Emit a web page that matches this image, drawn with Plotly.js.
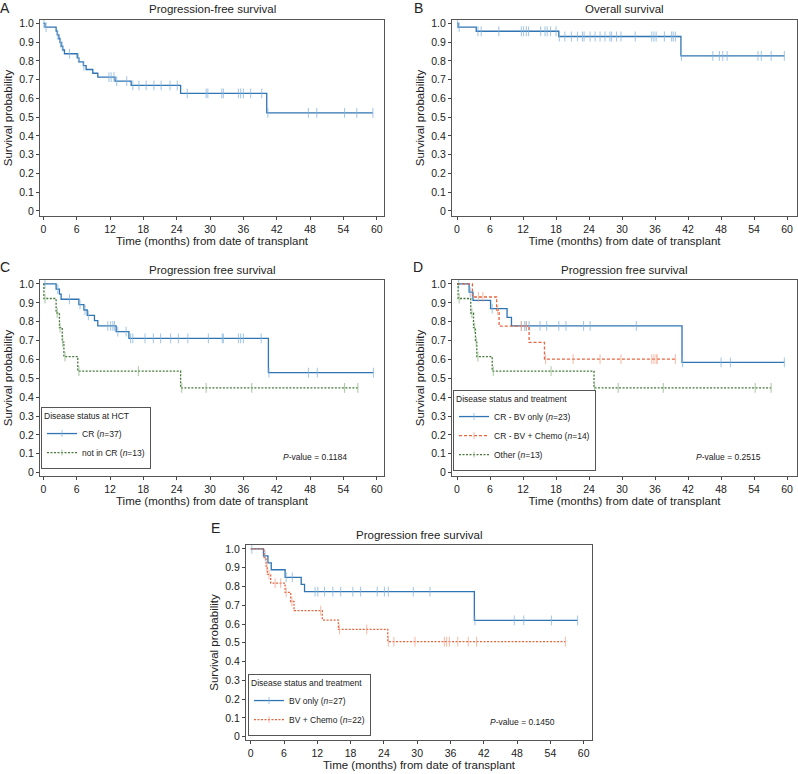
<!DOCTYPE html>
<html><head><meta charset="utf-8">
<script src="https://cdn.plot.ly/plotly-3.0.1.min.js"></script>
<style>html,body{margin:0;padding:0;background:#fff}</style>
</head><body><div id="chart" style="width:798px;height:774px"></div>
<script>
// ---------- data ----------
var xTickVals = [0, 6, 12, 18, 24, 30, 36, 42, 48, 54, 60];
var yTickVals = [0, 0.1, 0.2, 0.3, 0.4, 0.5, 0.6, 0.7, 0.8, 0.9, 1.0];
var yTickText = ['0', '0.1', '0.2', '0.3', '0.4', '0.5', '0.6', '0.7', '0.8', '0.9', '1.0'];

// Panel A: progression-free survival (all)
var A_eventT = [0.3, 2.3, 2.5, 2.8, 3.0, 3.2, 3.5, 3.8, 6.1, 6.4, 7.2, 7.7, 8.9, 9.8, 12.9, 15.8, 24.7, 40.2];
var A_surv   = [0.98, 0.959, 0.939, 0.918, 0.898, 0.878, 0.858, 0.838, 0.816, 0.795, 0.775, 0.754, 0.734, 0.713, 0.692, 0.669, 0.627, 0.523];
var A_cens   = [0.1, 0.5, 2.6, 3.1, 3.4, 4.7, 6.3, 7.3, 11.8, 12.2, 12.7, 13.2, 15.0, 16.1, 17.2, 18.5, 19.9, 21.2, 22.8, 24.1, 25.9, 29.3, 29.6, 32.1, 32.4, 35.1, 35.5, 36.0, 37.3, 39.3, 40.4, 47.7, 49.2, 54.2, 56.4, 59.3];

// Panel B: overall survival (all)
var B_eventT = [0.2, 3.5, 18.5, 40.7];
var B_surv   = [0.98, 0.958, 0.93, 0.827];
var B_cens   = [0.1, 0.4, 3.8, 4.4, 7.6, 11.7, 12.1, 12.6, 13.0, 15.2, 16.0, 16.4, 17.0, 18.0, 18.6, 19.6, 20.8, 21.9, 22.8, 23.1, 24.2, 25.1, 26.0, 26.9, 27.8, 28.1, 29.0, 29.8, 32.4, 35.4, 35.8, 36.2, 37.7, 39.0, 39.3, 39.7, 40.8, 46.5, 47.7, 48.3, 49.1, 54.7, 55.3, 57.1, 59.5];

// Panel C: PFS by disease status at HCT
var C_cr_eventT = [2.3, 2.9, 3.2, 6.4, 7.3, 7.9, 9.2, 9.8, 13.1, 15.4, 40.5];
var C_cr_surv   = [0.973, 0.946, 0.919, 0.89, 0.862, 0.834, 0.806, 0.778, 0.747, 0.712, 0.53];
var C_cr_cens   = [0.3, 2.6, 4.7, 6.6, 7.5, 8.1, 11.6, 12.1, 12.5, 12.8, 13.4, 14.9, 15.7, 16.1, 18.3, 19.8, 21.1, 22.9, 24.3, 26.0, 29.7, 32.2, 32.4, 35.1, 35.5, 36.0, 39.2, 40.6, 47.7, 49.3, 59.4];
var C_ncr_eventT = [0.1, 2.3, 2.9, 3.4, 3.7, 6.2, 24.7];
var C_ncr_surv   = [0.923, 0.846, 0.769, 0.692, 0.615, 0.538, 0.449];
var C_ncr_cens   = [0.3, 2.5, 3.0, 3.5, 3.9, 6.4, 17.1, 24.9, 29.3, 37.5, 54.2, 56.6];

// Panel D: PFS by disease status and treatment
var D_bv_eventT = [2.2, 2.9, 6.1, 9.1, 9.9, 40.9];
var D_bv_surv   = [0.957, 0.913, 0.869, 0.823, 0.778, 0.584];
var D_bv_cens   = [0.3, 2.4, 6.4, 11.7, 12.3, 12.6, 13.1, 15.1, 16.3, 18.5, 19.8, 23.0, 24.2, 32.6, 41.0, 48.0, 49.7, 59.5];
var D_bvc_eventT = [2.8, 7.2, 7.65, 13.1, 15.9];
var D_bvc_surv   = [0.931, 0.862, 0.776, 0.69, 0.602];
var D_bvc_cens   = [3.9, 4.7, 7.4, 11.7, 12.6, 16.1, 21.1, 26.0, 29.8, 35.4, 35.8, 36.2, 36.4, 39.7];
var D_oth_eventT = [0.2, 2.5, 3.0, 3.35, 3.6, 6.4, 24.9];
var D_oth_surv   = [0.923, 0.846, 0.769, 0.692, 0.615, 0.538, 0.449];
var D_oth_cens   = [0.4, 2.7, 3.2, 3.5, 3.8, 6.6, 17.1, 25.0, 29.3, 37.5, 54.2, 57.1];

// Panel E: PFS by treatment
var E_bv_eventT = [2.3, 3.1, 3.7, 6.2, 9.1, 9.7, 40.3];
var E_bv_surv   = [0.963, 0.926, 0.889, 0.849, 0.811, 0.773, 0.619];
var E_bv_cens   = [0.2, 2.6, 6.4, 7.5, 11.6, 12.1, 13.3, 14.8, 16.2, 18.4, 19.8, 22.8, 24.1, 24.8, 29.3, 32.3, 40.4, 47.5, 49.2, 54.2, 58.9];
var E_bvc_eventT = [2.4, 2.76, 3.0, 3.6, 6.2, 7.2, 7.8, 12.9, 15.8, 24.7];
var E_bvc_surv   = [0.955, 0.909, 0.864, 0.818, 0.769, 0.72, 0.671, 0.621, 0.571, 0.506];
var E_bvc_cens   = [2.9, 3.3, 4.4, 5.4, 6.4, 7.4, 12.6, 16.0, 20.9, 24.8, 25.8, 29.6, 34.9, 35.3, 35.8, 37.3, 39.2, 40.7, 56.7];

// ---------- styling ----------
var W = 798, H = 774;
var FONT = 'Liberation Sans, Arial, Helvetica, sans-serif';
var BLUE = '#2f74b3', BLUE_C = '#86b4dc';
var ORANGE = '#e8643e', ORANGE_C = '#f2a58c';
var GREEN = '#44793a', GREEN_C = '#8fb686';

function kmTrace(ev, sv, cens, o) {
  var pts = [{t: 0, s: 1, c: 0}];
  ev.forEach(function (t, i) { pts.push({t: t, s: sv[i], c: 0}); });
  cens.forEach(function (t) {
    var s = 1;
    for (var i = 0; i < ev.length; i++) { if (ev[i] <= t) s = sv[i]; }
    pts.push({t: t, s: s, c: 1});
  });
  pts.sort(function (a, b) { return (a.t - b.t) || (a.c - b.c); });
  return {
    type: 'scatter', mode: 'lines+markers',
    x: pts.map(function (p) { return p.t; }),
    y: pts.map(function (p) { return p.s; }),
    xaxis: o.xa, yaxis: o.ya,
    name: o.name || '', showlegend: !!o.name, legend: o.legend || 'legend',
    line: {shape: 'hv', color: o.color, width: 1.3, dash: o.dash || 'solid'},
    marker: {symbol: 'line-ns', size: pts.map(function (p) { return p.c ? 7 : 0; }),
             color: o.cColor, line: {color: o.cColor, width: 1.1}},
    hoverinfo: 'x+y'
  };
}

function px2x(a, b) { return [a / W, b / W]; }
function px2y(top, bottom) { return [1 - bottom / H, 1 - top / H]; }

function xAxis(dom, range, anchor) {
  return {domain: dom, range: range, anchor: anchor, tickmode: 'array', tickvals: xTickVals,
    ticks: 'outside', ticklen: 3, tickcolor: '#444', tickwidth: 1,
    showline: true, mirror: true, linecolor: '#555', linewidth: 1,
    showgrid: false, zeroline: false, fixedrange: true,
    tickfont: {family: FONT, size: 10.5, color: '#222'},
    title: {text: 'Time (months) from date of transplant', font: {family: FONT, size: 11.5, color: '#222'}, standoff: 3}};
}
function yAxis(dom, range, anchor) {
  return {domain: dom, range: range, anchor: anchor, tickmode: 'array', tickvals: yTickVals, ticktext: yTickText,
    ticks: 'outside', ticklen: 3, tickcolor: '#444', tickwidth: 1,
    showline: true, mirror: true, linecolor: '#555', linewidth: 1,
    showgrid: false, zeroline: false, fixedrange: true,
    tickfont: {family: FONT, size: 10.5, color: '#222'},
    title: {text: 'Survival probability', font: {family: FONT, size: 11.5, color: '#222'}, standoff: 4}};
}

var traces = [
  kmTrace(A_eventT, A_surv, A_cens, {xa: 'x', ya: 'y', color: BLUE, cColor: BLUE_C}),
  kmTrace(B_eventT, B_surv, B_cens, {xa: 'x2', ya: 'y2', color: BLUE, cColor: BLUE_C}),
  kmTrace(C_cr_eventT, C_cr_surv, C_cr_cens, {xa: 'x3', ya: 'y3', color: BLUE, cColor: BLUE_C, name: 'CR (<i>n</i>=37)', legend: 'legend'}),
  kmTrace(C_ncr_eventT, C_ncr_surv, C_ncr_cens, {xa: 'x3', ya: 'y3', color: GREEN, cColor: GREEN_C, dash: '2px,1.5px', name: 'not in CR (<i>n</i>=13)', legend: 'legend'}),
  kmTrace(D_bv_eventT, D_bv_surv, D_bv_cens, {xa: 'x4', ya: 'y4', color: BLUE, cColor: BLUE_C, name: 'CR - BV only (<i>n</i>=23)', legend: 'legend2'}),
  kmTrace(D_bvc_eventT, D_bvc_surv, D_bvc_cens, {xa: 'x4', ya: 'y4', color: ORANGE, cColor: ORANGE_C, dash: '3px,2px', name: 'CR - BV + Chemo (<i>n</i>=14)', legend: 'legend2'}),
  kmTrace(D_oth_eventT, D_oth_surv, D_oth_cens, {xa: 'x4', ya: 'y4', color: GREEN, cColor: GREEN_C, dash: '2px,1.5px', name: 'Other (<i>n</i>=13)', legend: 'legend2'}),
  kmTrace(E_bv_eventT, E_bv_surv, E_bv_cens, {xa: 'x5', ya: 'y5', color: BLUE, cColor: BLUE_C, name: 'BV only (<i>n</i>=27)', legend: 'legend3'}),
  kmTrace(E_bvc_eventT, E_bvc_surv, E_bvc_cens, {xa: 'x5', ya: 'y5', color: ORANGE, cColor: ORANGE_C, dash: '2px,1.5px', name: 'BV + Chemo (<i>n</i>=22)', legend: 'legend3'})
];

function legendBox(xpx, ypx, title) {
  return {x: xpx / W, y: 1 - ypx / H, xanchor: 'left', yanchor: 'bottom',
    bgcolor: '#fff', bordercolor: '#555', borderwidth: 1, itemwidth: 30,
    font: {family: FONT, size: 8.5, color: '#222'}, tracegroupgap: 0,
    title: {text: title, font: {family: FONT, size: 8.5, color: '#222'}}};
}

function ann(text, xpx, ypx, size, extra) {
  var a = {text: text, x: xpx / W, y: 1 - ypx / H, xref: 'paper', yref: 'paper',
    showarrow: false, xanchor: 'center', yanchor: 'middle',
    font: {family: FONT, size: size, color: '#222'}};
  if (extra) for (var k in extra) a[k] = extra[k];
  return a;
}

var layout = {
  width: W, height: H, margin: {l: 0, r: 0, t: 0, b: 0},
  paper_bgcolor: '#fff', plot_bgcolor: '#fff',
  font: {family: FONT, color: '#222'},
  xaxis:  xAxis(px2x(40, 384),  [-0.6, 61.3], 'y'),
  yaxis:  yAxis(px2y(20, 216),  [-0.027, 1.018], 'x'),
  xaxis2: xAxis(px2x(452, 797), [-0.91, 61.8], 'y2'),
  yaxis2: yAxis(px2y(20, 216),  [-0.027, 1.018], 'x2'),
  xaxis3: xAxis(px2x(40, 384),  [-0.6, 61.3], 'y3'),
  yaxis3: yAxis(px2y(280, 476), [-0.018, 1.021], 'x3'),
  xaxis4: xAxis(px2x(452, 797), [-0.91, 61.8], 'y4'),
  yaxis4: yAxis(px2y(280, 476), [-0.018, 1.021], 'x4'),
  xaxis5: xAxis(px2x(246, 592), [-0.85, 61.5], 'y5'),
  yaxis5: yAxis(px2y(545, 740), [-0.018, 1.021], 'x5'),
  legend:  legendBox(41, 469, 'Disease status at HCT'),
  legend2: legendBox(453, 471, 'Disease status and treatment'),
  legend3: legendBox(248, 736, 'Disease status and treatment'),
  annotations: [
    ann('A', 5, 8, 14), ann('B', 418, 8, 14), ann('C', 5, 267, 14), ann('D', 418, 267, 14), ann('E', 215, 528, 14),
    ann('Progression-free survival', 212, 9, 11.5),
    ann('Overall survival', 624.5, 9, 11.5),
    ann('Progression free survival', 212, 270, 11.5),
    ann('Progression free survival', 624.5, 270, 11.5),
    ann('Progression free survival', 419, 535, 11.5),
    ann('<i>P</i>-value = 0.1184', 315, 457, 8.5),
    ann('<i>P</i>-value = 0.2515', 728, 457, 8.5),
    ann('<i>P</i>-value = 0.1450', 522, 722, 8.5)
  ]
};

Plotly.newPlot('chart', traces, layout, {staticPlot: true, displayModeBar: false});
</script></body></html>
